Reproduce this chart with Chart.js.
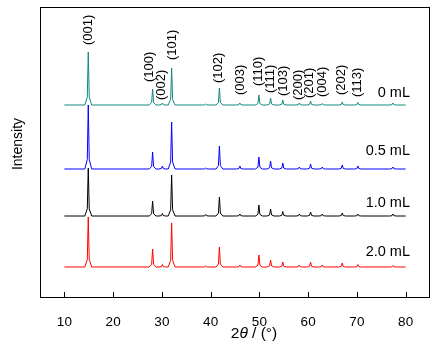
<!DOCTYPE html>
<html>
<head>
<meta charset="utf-8">
<script src="https://cdn.jsdelivr.net/npm/chart.js@4.4.1/dist/chart.umd.min.js"></script>
<style>
  html, body { margin: 0; padding: 0; background: #fff; }
  #wrap { width: 441px; height: 361px; }
</style>
</head>
<body>
<div id="wrap"><canvas id="xrd"></canvas></div>
<script>
// peak positions (2theta, deg) and heights per sample
const peakPos = [14.9, 28.1, 30.1, 32.0, 39.0, 41.8, 46.0, 49.9, 52.3, 54.8, 58.2, 60.5, 62.9, 67.0, 70.2, 77.4];
const h0mL  = [53, 16, 2, 37, 1, 17, 2, 10, 7, 5, 2, 4, 1.5, 3, 2.5, 2];
const h05mL = [64, 17, 3, 47, 1, 23, 3, 12, 8, 6, 2, 5, 2, 4, 3, 2];
const h10mL = [48, 15, 2.5, 41, 1.5, 19, 2, 11, 7, 4.5, 2, 4, 2, 3, 2, 2];
const h20mL = [50, 18, 2.5, 44, 1, 20, 2, 12, 7, 5, 2, 5, 2, 4, 2.5, 1.5];

const sampleNames = ['0 mL', '0.5 mL', '1.0 mL', '2.0 mL'];
const baselines = [193, 129, 82, 31];     // stacking offsets
const nameY = [205, 147, 95, 46];
const colors = ['#12877a', '#0000ff', '#000000', '#ff0000'];

const hklLabels = ['(001)', '(100)', '(002)', '(101)', '(102)', '(003)', '(110)', '(111)', '(103)', '(200)', '(201)', '(004)', '(202)', '(113)'];
const hklX = [14.9, 27.4, 30.0, 32.2, 41.7, 46.2, 49.9, 52.2, 54.9, 58.0, 60.3, 62.9, 66.8, 70.1];
const hklY = [253, 216, 198, 238, 215, 203, 212, 205, 202, 198, 200, 201, 203, 201];

const xTicks = [10, 20, 30, 40, 50, 60, 70, 80];
const xStart = 10, xEnd = 80;
// peak outline: offsets from centre and fraction of peak height
const peakShapeDx = [-0.7, -0.2, 0, 0.2, 0.7];
const peakShapeFr = [0, 0.15, 1, 0.15, 0];

function buildPattern(heights, base) {
  const pts = [{ x: xStart, y: base }];
  peakPos.forEach((p, i) => {
    peakShapeDx.forEach((dx, k) => {
      pts.push({ x: p + dx, y: base + heights[i] * peakShapeFr[k] });
    });
  });
  pts.push({ x: xEnd, y: base });
  return pts;
}

const allHeights = [h0mL, h05mL, h10mL, h20mL];
const datasets = allHeights.map((h, i) => ({
  label: sampleNames[i],
  data: buildPattern(h, baselines[i]),
  borderColor: colors[i],
  borderWidth: 1,
  pointRadius: 0,
  tension: 0,
  fill: false
}));

const FONT = '"Liberation Sans", Arial, sans-serif';

const annotate = {
  id: 'annotate',
  afterDraw(chart) {
    const { ctx, chartArea: a, scales: { x, y } } = chart;
    ctx.save();
    // frame
    ctx.strokeStyle = '#000';
    ctx.lineWidth = 1;
    ctx.strokeRect(a.left + 0.5, a.top + 0.5, a.right - a.left - 1, a.bottom - a.top - 1);
    // inward ticks
    ctx.beginPath();
    xTicks.forEach(v => {
      const px = Math.round(x.getPixelForValue(v)) + 0.5;
      ctx.moveTo(px, a.bottom);
      ctx.lineTo(px, a.bottom - 6);
    });
    ctx.stroke();

    ctx.fillStyle = '#000';
    // hkl labels
    ctx.font = '13px ' + FONT;
    ctx.textAlign = 'left';
    ctx.textBaseline = 'middle';
    hklLabels.forEach((t, i) => {
      ctx.save();
      ctx.translate(x.getPixelForValue(hklX[i]), y.getPixelForValue(hklY[i]));
      ctx.rotate(-Math.PI / 2);
      ctx.fillText(t, 0, 0);
      ctx.restore();
    });
    // sample names
    ctx.font = '14.5px ' + FONT;
    ctx.textAlign = 'right';
    sampleNames.forEach((t, i) => {
      ctx.fillText(t, x.getPixelForValue(80.9), y.getPixelForValue(nameY[i]));
    });
    // y title
    ctx.save();
    ctx.font = '14px ' + FONT;
    ctx.textAlign = 'center';
    ctx.translate(18, 144);
    ctx.rotate(-Math.PI / 2);
    ctx.fillText('Intensity', 0, 0);
    ctx.restore();
    // x title: 2θ / (°) with italic theta
    const parts = [['2', ''], ['θ', 'italic '], [' / (°)', '']];
    let w = 0;
    parts.forEach(p => { ctx.font = p[1] + '15.5px ' + FONT; w += ctx.measureText(p[0]).width; });
    let cx = 254 - w / 2;
    ctx.textAlign = 'left';
    parts.forEach(p => {
      ctx.font = p[1] + '15.5px ' + FONT;
      ctx.fillText(p[0], cx, 334);
      cx += ctx.measureText(p[0]).width;
    });
    ctx.restore();
  }
};

new Chart(document.getElementById('xrd').getContext('2d'), {
  type: 'line',
  data: { datasets },
  options: {
    responsive: true,
    maintainAspectRatio: false,
    animation: false,
    events: [],
    layout: { padding: { left: 40, right: 11, top: 7, bottom: 0 } },
    plugins: { legend: { display: false }, tooltip: { enabled: false } },
    scales: {
      x: {
        type: 'linear',
        min: 5,
        max: 85,
        grid: { display: false },
        border: { display: false },
        afterBuildTicks: s => { s.ticks = xTicks.map(v => ({ value: v })); },
        afterFit: s => { s.height = 63; },
        ticks: { padding: 8, color: '#000', font: { family: FONT, size: 13.5 } }
      },
      y: {
        display: false,
        min: 0,
        max: 291
      }
    }
  },
  plugins: [annotate]
});
</script>
</body>
</html>
